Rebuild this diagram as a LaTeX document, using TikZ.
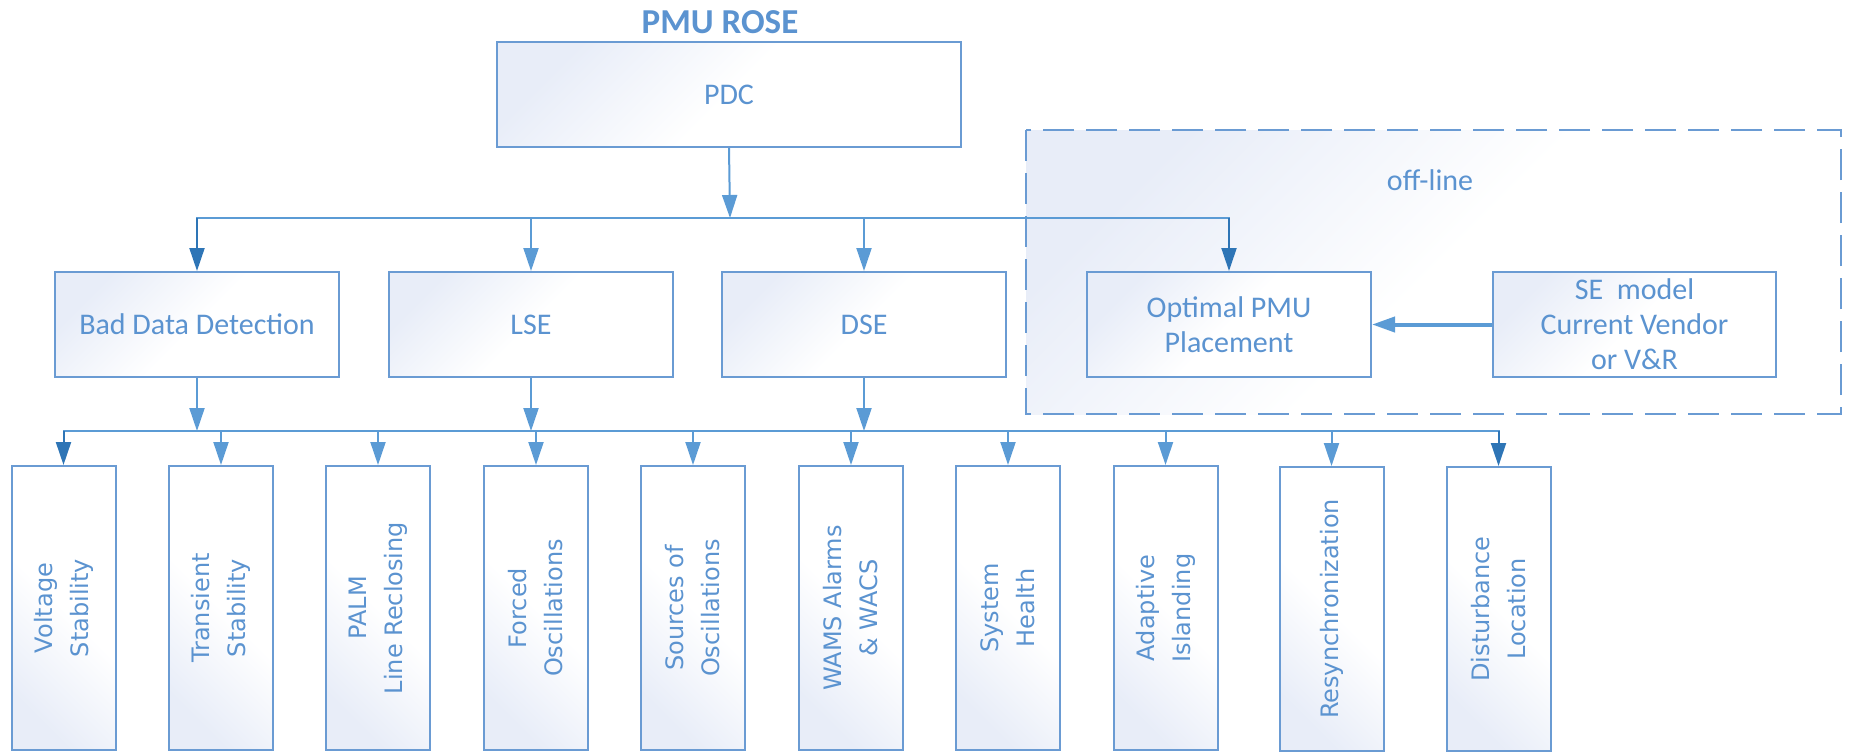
\documentclass[tikz,border=0pt]{standalone}
\usepackage{fontspec}
\setmainfont{Carlito}
\newfontfamily\rotfont{DejaVu Sans}
\usetikzlibrary{arrows.meta}

\definecolor{rosetext}{HTML}{5B93D0}
\definecolor{roseline}{HTML}{5B9BD5}
\definecolor{rosedark}{HTML}{2E75B6}
\definecolor{roseedge}{HTML}{6A9BD3}
\definecolor{rosefill}{HTML}{E8EDF8}

\tikzset{
  basebox/.style={draw=roseedge, line width=1pt, inner sep=0pt, text=rosetext, align=center},
  flatbox/.style={basebox, top color=rosefill, bottom color=white, middle color=white, shading angle=45,
    minimum width=142pt, minimum height=52.5pt, font=\fontsize{15}{17.5}\selectfont},
  appbox/.style={basebox, top color=rosefill, bottom color=white, middle color=white, shading angle=135,
    minimum width=52pt, minimum height=142pt},
  apptext/.style={rotate=90, text=rosetext, align=center, font=\rotfont\fontsize{12}{18}\selectfont},
  offzone/.style={draw=roseedge, line width=1pt, dash pattern=on 15.5pt off 6pt,
    top color=rosefill, bottom color=white, middle color=white, shading angle=45},
  bus/.style={draw=roseline, line width=1pt, line cap=rect},
  feed/.style={draw=roseline, fill=roseline, line width=1pt, -{Triangle[length=11.5pt,width=7.5pt]}},
  feeddark/.style={feed, draw=rosedark, fill=rosedark}
}

\begin{document}
\begin{tikzpicture}[x=0.5pt, y=-0.5pt]
  \useasboundingbox (0,0) rectangle (1850,752);
  \path[offzone] (1026,130) rectangle (1841,414);
  \node[text=rosetext, font=\fontsize{15}{17}\selectfont] (offlbl) at (1430,180) {off-line};

  \node[text=rosetext, font=\bfseries\fontsize{17.5}{21}\selectfont] (title) at (720,22) {PMU ROSE};
  \node[flatbox, minimum width=232pt] (pdc) at (729,94.5) {PDC};

  \node[flatbox] (bdd) at (197,324.5) {Bad Data Detection};
  \node[flatbox] (lse) at (531,324.5) {LSE};
  \node[flatbox] (dse) at (864,324.5) {DSE};
  \node[flatbox] (opt) at (1229,324.5) {Optimal PMU\\Placement};
  \node[flatbox, minimum width=141.5pt] (se) at (1634.5,324.5) {SE~ model\\Current Vendor\\or V\&R};

  \foreach \x/\y/\txt [count=\i] in {63.5/608/{Voltage\\Stability}, 221/608/{Transient\\Stability},
      378/608/{PALM\\Line Reclosing}, 536/608/{Forced\\Oscillations}, 693/608/{Sources of\\Oscillations},
      851/608/{WAMS Alarms\\\& WACS}, 1008/608/{System\\Health}, 1165.5/608/{Adaptive\\Islanding},
      1331.5/609/{Resynchronization}, 1498.5/609/{Disturbance\\Location}}
  {
    \node[appbox] (b\i) at (\x,\y) {};
    \node[apptext] (t\i) at (b\i.center) {\txt};
  }

  \coordinate (topbus) at (730,218);
  \coordinate (lowbus) at (531,431);

  \draw[feed] (pdc.south) -- (topbus);
  \draw[bus] (topbus -| bdd.north) -- (topbus -| opt.north);
  \draw[feeddark] (topbus -| bdd.north) -- (bdd.north);
  \draw[feeddark] (topbus -| opt.north) -- (opt.north);
  \foreach \n in {lse,dse} { \draw[feed] (topbus -| \n.north) -- (\n.north); }
  \draw[feed, line width=2pt] (se.west) -- (opt.east);

  \foreach \n in {bdd,lse,dse} { \draw[feed] (\n.south) -- (\n.south |- lowbus); }
  \draw[bus] (lowbus -| b1.north) -- (lowbus -| b10.north);
  \draw[feeddark] (lowbus -| b1.north) -- (b1.north);
  \draw[feeddark] (lowbus -| b10.north) -- (b10.north);
  \foreach \i in {2,...,9} { \draw[feed] (lowbus -| b\i.north) -- (b\i.north); }
\end{tikzpicture}
\end{document}
